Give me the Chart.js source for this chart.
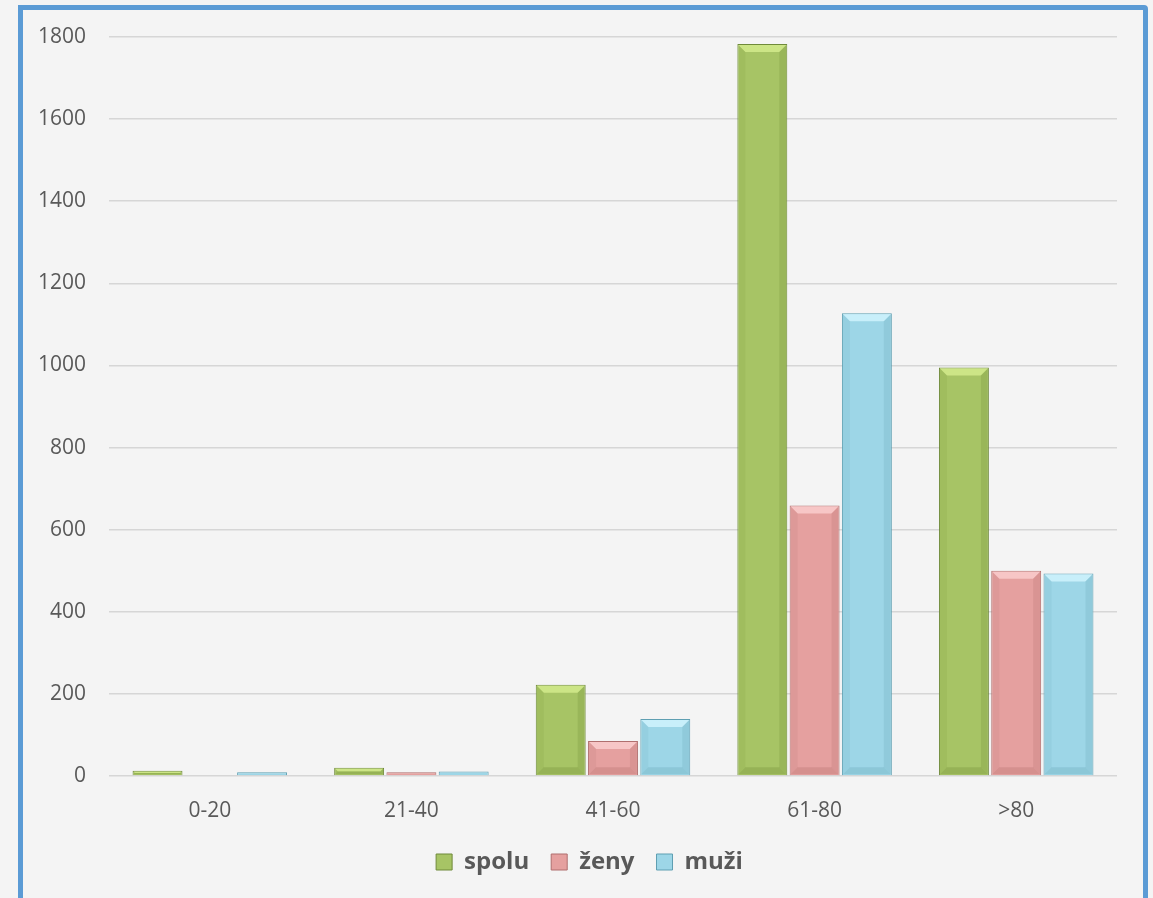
<!DOCTYPE html>
<html>
<head>
<meta charset="utf-8">
<script src="https://cdn.jsdelivr.net/npm/chart.js@4.4.1/dist/chart.umd.min.js"></script>
<style>
  html, body { margin:0; padding:0; background:#f4f4f4; width:1153px; height:898px; overflow:hidden; }
  #frame { position:absolute; left:18px; top:5px; width:1120px; height:920px; border:5px solid #5b9bd5; border-top-right-radius:4px; background:#f4f4f4; }
  #wrap { position:absolute; left:0; top:0; width:1153px; height:898px; }
</style>
</head>
<body>
<div id="frame"></div>
<div id="wrap"><canvas id="c" width="1153" height="898"></canvas></div>
<script>
const categories = ['0-20', '21-40', '41-60', '61-80', '>80'];
const spolu = [13, 20, 222, 1783, 995];
const zeny  = [0, 9, 85, 659, 500];
const muzi  = [9, 11, 139, 1127, 493];
const yTicks = [0, 200, 400, 600, 800, 1000, 1200, 1400, 1600, 1800];

const palette = {
  spolu: { fill:'#a7c465', border:'#6f8a3a', light:'#d6ee8e', dark:'#8aa64c' },
  zeny:  { fill:'#e5a09f', border:'#b06f6e', light:'#fbd0cf', dark:'#c98584' },
  muzi:  { fill:'#9dd6e7', border:'#5f9fb2', light:'#d3f5ff', dark:'#80bccd' }
};
const keys = ['spolu','zeny','muzi'];

const bevelPlugin = {
  id:'bevel',
  afterDatasetsDraw(chart) {
    const ctx = chart.ctx;
    chart.data.datasets.forEach((ds, di) => {
      const meta = chart.getDatasetMeta(di);
      const p = palette[keys[di]];
      meta.data.forEach(el => {
        const {x, y, base, width} = el.getProps(['x','y','base','width'], true);
        const l = x - width/2 + 1, r = x + width/2 - 1, t = y + 1, b = base - 1;
        const h = b - t;
        if (h < 2) return;
        const bv = Math.min(7, h/2, width/4);
        ctx.save();
        ctx.fillStyle = p.light; ctx.globalAlpha = 0.8;
        ctx.beginPath(); ctx.moveTo(l,t); ctx.lineTo(r,t); ctx.lineTo(r-bv,t+bv); ctx.lineTo(l+bv,t+bv); ctx.closePath(); ctx.fill();
        ctx.fillStyle = p.dark; ctx.globalAlpha = 0.6;
        ctx.beginPath(); ctx.moveTo(l,b); ctx.lineTo(r,b); ctx.lineTo(r-bv,b-bv); ctx.lineTo(l+bv,b-bv); ctx.closePath(); ctx.fill();
        ctx.globalAlpha = 0.45;
        ctx.beginPath(); ctx.moveTo(r,t); ctx.lineTo(r,b); ctx.lineTo(r-bv,b-bv); ctx.lineTo(r-bv,t+bv); ctx.closePath(); ctx.fill();
        ctx.globalAlpha = 0.25;
        ctx.beginPath(); ctx.moveTo(l,t); ctx.lineTo(l,b); ctx.lineTo(l+bv,b-bv); ctx.lineTo(l+bv,t+bv); ctx.closePath(); ctx.fill();
        ctx.restore();
      });
    });
  }
};

const legendShift = {
  id: 'legendShift',
  afterLayout(chart) {
    if (chart.legend) { chart.legend.left += 31; chart.legend.right += 31; }
  }
};

const mk = (label, data, k) => ({
  label, data,
  backgroundColor: palette[k].fill,
  borderColor: palette[k].border,
  borderWidth: 1,
  categoryPercentage: 0.778,
  barPercentage: 0.955
});

new Chart(document.getElementById('c'), {
  type: 'bar',
  data: {
    labels: categories,
    datasets: [mk('spolu', spolu, 'spolu'), mk('ženy', zeny, 'zeny'), mk('muži', muzi, 'muzi')]
  },
  options: {
    responsive: false,
    animation: false,
    layout: { padding: { left: 0, right: 36, top: 37, bottom: 14 } },
    plugins: {
      tooltip: { enabled: false },
      legend: {
        position: 'bottom',
        labels: {
          boxWidth: 16, boxHeight: 16, padding: 22,
          color: '#595959',
          font: { family: '"Open Sans", sans-serif', size: 24, weight: 'bold' },
          generateLabels(chart) {
            return chart.data.datasets.map((ds, i) => ({
              text: ds.label, fillStyle: ds.backgroundColor, strokeStyle: ds.borderColor,
              lineWidth: 1, datasetIndex: i, hidden: false, fontColor: '#595959'
            }));
          }
        }
      }
    },
    scales: {
      x: {
        grid: { display: false, drawTicks: false },
        border: { display: false },
        ticks: { color: '#595959', padding: 22, font: { family: '"Open Sans", sans-serif', size: 21 } },
        afterFit(s) { s.height = 52; }
      },
      y: {
        min: 0, max: 1800,
        afterBuildTicks(s) { s.ticks = yTicks.map(v => ({ value: v })); },
        grid: { color: '#d6d6d6', lineWidth: 1.5, drawTicks: false },
        border: { display: false },
        ticks: { color: '#595959', padding: 23, font: { family: '"Open Sans", sans-serif', size: 21 },
                 callback: v => String(v) },
        afterFit(s) { s.width = 109; }
      }
    }
  },
  plugins: [bevelPlugin, legendShift]
});
</script>
</body>
</html>
